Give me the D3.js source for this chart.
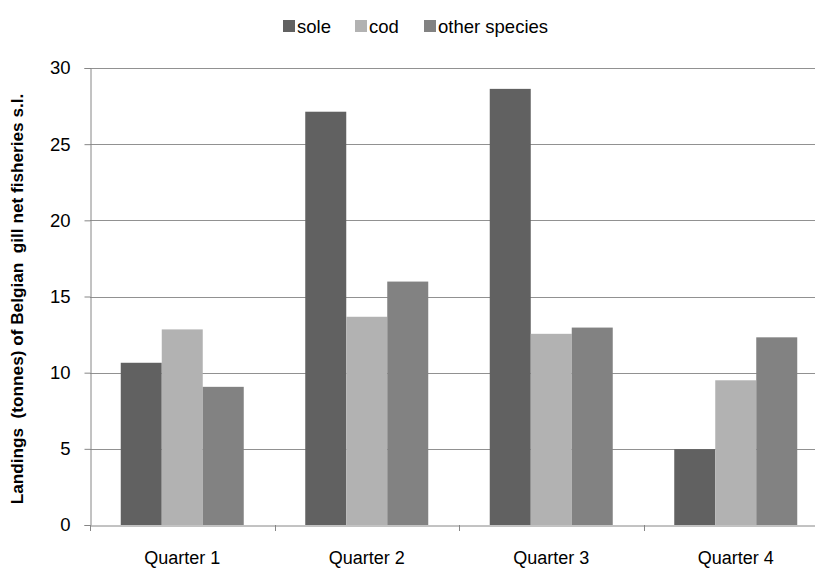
<!DOCTYPE html>
<html>
<head>
<meta charset="utf-8">
<script src="https://cdn.jsdelivr.net/npm/d3@7"></script>
<style>
  html, body { margin: 0; padding: 0; background: #fff; }
  svg { display: block; }
  text { font-family: "Liberation Sans", Arial, sans-serif; fill: #000; }
</style>
</head>
<body>
<svg id="chart" width="815" height="569"></svg>
<script>
const categories = ["Quarter 1", "Quarter 2", "Quarter 3", "Quarter 4"];
const seriesNames = ["sole", "cod", "other species"];
const sole = [10.65, 27.13, 28.63, 4.98];
const cod = [12.84, 13.67, 12.55, 9.5];
const otherSpecies = [9.07, 15.98, 12.96, 12.32];
const seriesColors = ["#616161", "#b2b2b2", "#828282"];
const yTicks = [0, 5, 10, 15, 20, 25, 30];
const yTitle = "Landings  (tonnes) of Belgian  gill net fisheries s.l.";

const seriesValues = [sole, cod, otherSpecies];
const data = categories.map((c, i) => ({
  cat: c,
  vals: seriesNames.map((s, j) => ({ key: s, value: seriesValues[j][i], color: seriesColors[j] }))
}));

const svg = d3.select("#chart");
const mLeft = 90, mTop = 68, mBottom = 525, mRight = 828;

const x = d3.scaleBand().domain(categories).range([mLeft, mRight]).paddingInner(0).paddingOuter(0);
const barW = x.bandwidth() / 4.5;
const x1 = d3.scaleBand().domain(seriesNames)
  .range([0.75 * barW, 0.75 * barW + 3 * barW]).padding(0);
const y = d3.scaleLinear().domain([0, 30]).range([mBottom, mTop]);

// gridlines
svg.append("g")
  .selectAll("line")
  .data(yTicks.filter(t => t > 0))
  .join("line")
  .attr("x1", mLeft).attr("x2", mRight)
  .attr("y1", d => Math.round(y(d)) + 0.5).attr("y2", d => Math.round(y(d)) + 0.5)
  .attr("stroke", "#919191").attr("stroke-width", 1.2);

// bars
const groups = svg.append("g").selectAll("g").data(data).join("g")
  .attr("transform", d => `translate(${x(d.cat)},0)`);
groups.selectAll("rect").data(d => d.vals).join("rect")
  .attr("x", d => x1(d.key))
  .attr("width", x1.bandwidth())
  .attr("y", d => y(d.value))
  .attr("height", d => y(0) - y(d.value))
  .attr("fill", d => d.color);

// y axis
const yAxis = d3.axisLeft(y).tickValues(yTicks).tickSize(6).tickPadding(14).tickFormat(d3.format("d"));
const gy = svg.append("g").attr("transform", `translate(${mLeft + 0.5},0)`).call(yAxis);
gy.select(".domain").attr("stroke", "#868686");
gy.selectAll(".tick line").attr("stroke", "#868686");
gy.selectAll(".tick text").attr("font-size", 18.5).attr("font-family", "Liberation Sans, Arial, sans-serif").attr("fill", "#000");

// x axis
const xAxis = d3.axisBottom(x).tickSize(0).tickPadding(0);
const gx = svg.append("g").attr("transform", `translate(0,${mBottom + 0.5})`).call(xAxis);
gx.select(".domain").attr("stroke", "#868686");
gx.selectAll(".tick text").attr("font-size", 18).attr("dy", 0).attr("y", 38.5)
  .attr("font-family", "Liberation Sans, Arial, sans-serif").attr("fill", "#000");
// category boundary ticks
svg.append("g").selectAll("line")
  .data(categories.map(c => x(c)))
  .join("line")
  .attr("x1", d => Math.round(d) + 0.5).attr("x2", d => Math.round(d) + 0.5)
  .attr("y1", mBottom).attr("y2", mBottom + 6)
  .attr("stroke", "#868686");

// y title
svg.append("text")
  .attr("transform", `translate(23,299) rotate(-90)`)
  .attr("text-anchor", "middle")
  .attr("font-size", 17.2)
  .attr("font-weight", "bold")
  .style("white-space", "pre")
  .text(yTitle);

// legend
const legendItems = [
  { name: seriesNames[0], color: seriesColors[0], x: 283 },
  { name: seriesNames[1], color: seriesColors[1], x: 355 },
  { name: seriesNames[2], color: seriesColors[2], x: 424 }
];
const lg = svg.append("g").selectAll("g").data(legendItems).join("g")
  .attr("transform", d => `translate(${d.x},0)`);
lg.append("rect").attr("x", 0).attr("y", 20).attr("width", 12).attr("height", 12).attr("fill", d => d.color);
lg.append("text").attr("x", 14).attr("y", 33).attr("font-size", 18.5).text(d => d.name);
</script>
</body>
</html>
